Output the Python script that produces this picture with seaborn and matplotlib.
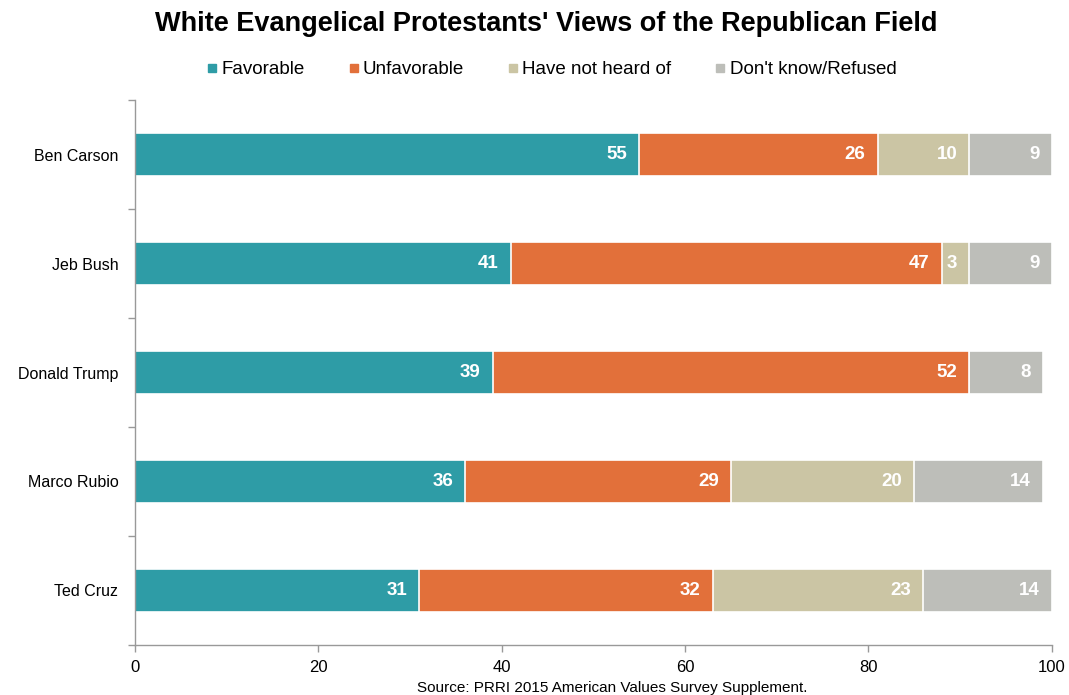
import numpy as np
import pandas as pd
import matplotlib
matplotlib.use('Agg')
import matplotlib.pyplot as plt
from matplotlib.lines import Line2D
import seaborn as sns

# ------------------------
# Data
# ------------------------
candidates = ["Ben Carson", "Jeb Bush", "Donald Trump", "Marco Rubio", "Ted Cruz"]
series = ["Favorable", "Unfavorable", "Have not heard of", "Don't know/Refused"]
favorable = [55, 41, 39, 36, 31]
unfavorable = [26, 47, 52, 29, 32]
not_heard = [10, 3, 0, 20, 23]
dont_know = [9, 9, 8, 14, 14]
colors = ["#2E9CA6", "#E2703A", "#CBC5A4", "#BDBEB9"]

df = pd.DataFrame({
    "candidate": candidates,
    "Favorable": favorable,
    "Unfavorable": unfavorable,
    "Have not heard of": not_heard,
    "Don't know/Refused": dont_know,
})
cum = df[series].cumsum(axis=1)

sns.set_style("white")
plt.rcParams['font.family'] = ['Liberation Sans', 'DejaVu Sans']
plt.rcParams['text.color'] = 'black'
plt.rcParams['xtick.color'] = 'black'
plt.rcParams['ytick.color'] = 'black'

fig = plt.figure(figsize=(10.69, 6.95), dpi=100)
ax = fig.add_axes([0.1263, 0.072, 0.8575, 0.784])

# stacked bars: draw cumulative totals back to front
for s, c in reversed(list(zip(series, colors))):
    sns.barplot(x=cum[s], y=df["candidate"], color=c, orient="h",
                width=0.39, edgecolor="white", linewidth=1.2, ax=ax,
                saturation=1)

# segment labels
for i in range(len(candidates)):
    for s in series:
        v = df.loc[i, s]
        if v <= 0:
            continue
        ax.text(cum.loc[i, s] - 1.3, i, str(v), ha="right", va="center",
                color="white", fontsize=13.5, fontweight="bold")

ax.set_xlim(0, 100)
ax.set_ylim(4.5, -0.5)
ax.set_xticks([0, 20, 40, 60, 80, 100])
ax.set_xlabel("")
ax.set_ylabel("")

ax.set_yticks(np.arange(-0.5, 5.0, 1.0), minor=True)
ax.tick_params(axis="y", which="major", left=True, length=0, labelsize=11.5, pad=12)
ax.tick_params(axis="y", which="minor", left=True, length=5, width=1, color="#999999", direction="out")
ax.tick_params(axis="x", bottom=True, length=5, width=1, color="#999999", labelcolor="black",
               direction="out", labelsize=12, pad=6)

for side in ["top", "right"]:
    ax.spines[side].set_visible(False)
for side in ["left", "bottom"]:
    ax.spines[side].set_color("#999999")
    ax.spines[side].set_linewidth(1)

# title, legend, source
fig.text(0.511, 0.965, "White Evangelical Protestants' Views of the Republican Field",
         ha="center", va="center", fontsize=19.5, fontweight="bold")

handles = [Line2D([], [], marker="s", linestyle="", markersize=6,
                  markerfacecolor=c, markeredgecolor=c) for c in colors]
fig.legend(handles, series, loc="center", bbox_to_anchor=(0.515, 0.9),
           ncol=4, frameon=False, fontsize=13.5, handletextpad=0.1,
           columnspacing=2.2, handlelength=0.8)

fig.text(0.573, 0.01, "Source: PRRI 2015 American Values Survey Supplement.",
         ha="center", va="center", fontsize=11)

plt.savefig("out.png", dpi=100)
plt.close()
